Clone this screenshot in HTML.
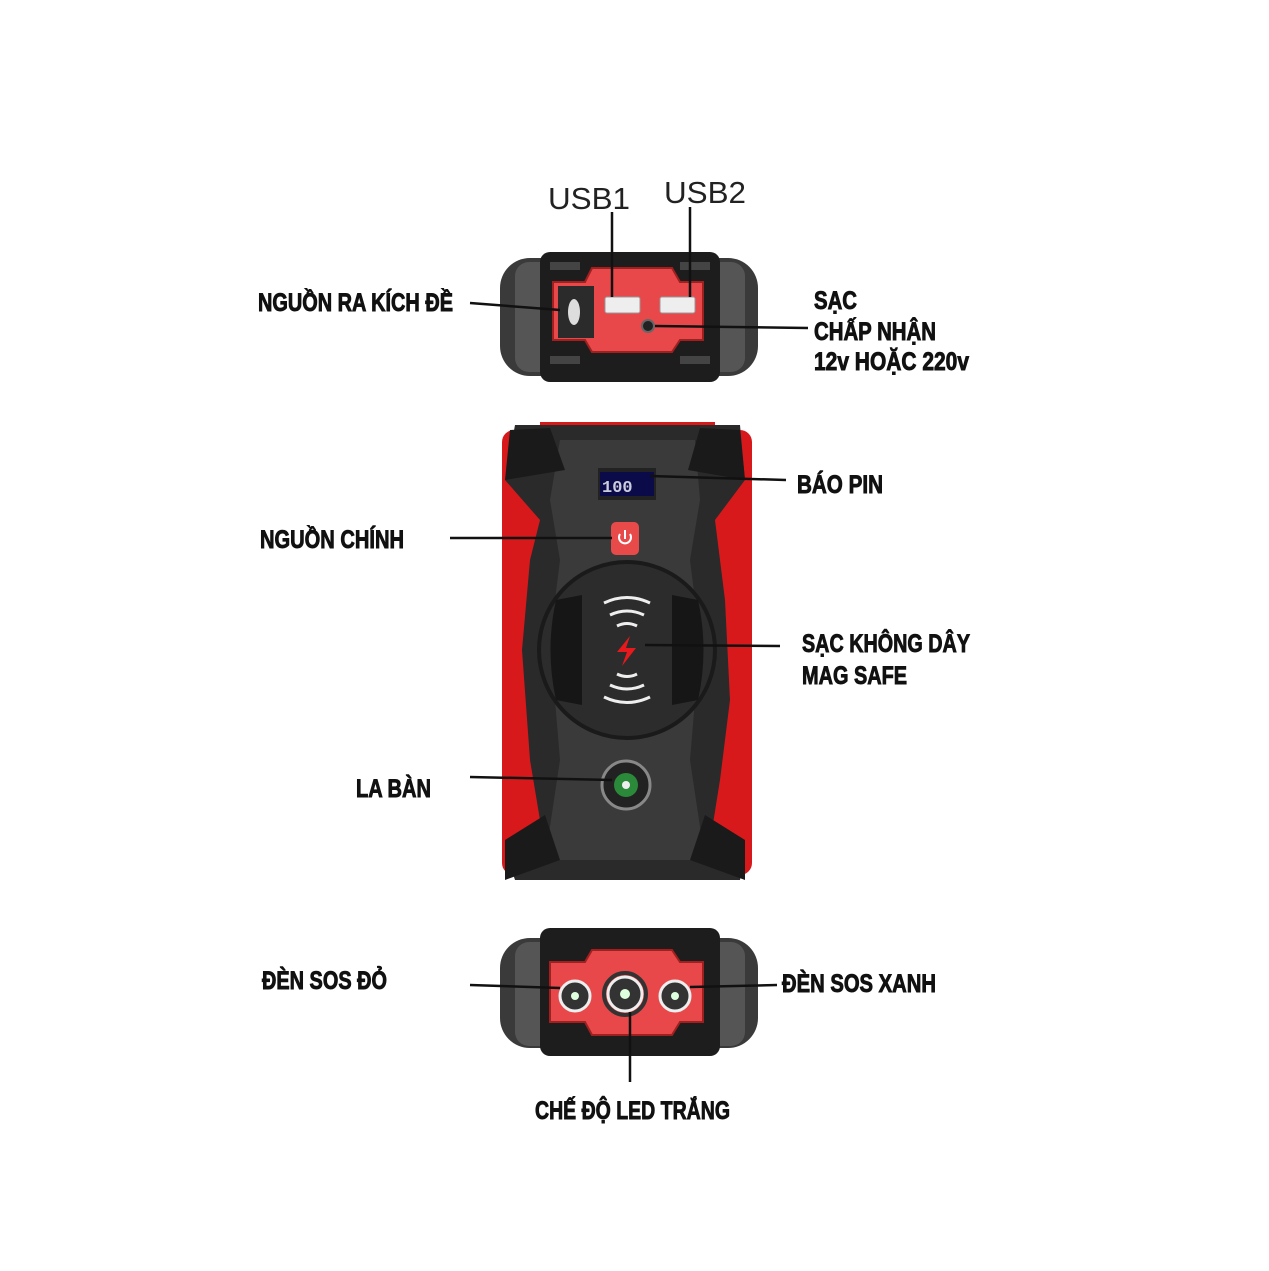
<!DOCTYPE html>
<html><head><meta charset="utf-8"><style>
html,body{margin:0;padding:0;background:#fff;width:1269px;height:1271px;overflow:hidden}
svg{display:block}
.l{font-family:"Liberation Sans Narrow","Liberation Sans",sans-serif;font-weight:bold;font-size:25px;fill:#111;stroke:#111;stroke-width:0.9}
.u{font-family:"Liberation Sans",sans-serif;font-size:31px;fill:#222}
</style></head><body>
<svg width="1269" height="1271" viewBox="0 0 1269 1271" xmlns="http://www.w3.org/2000/svg">
<!-- TOP DEVICE -->
<rect x="500" y="258" width="258" height="118" rx="30" fill="#3a3a3a"/>
<rect x="515" y="262" width="40" height="110" rx="14" fill="#555"/>
<rect x="705" y="262" width="40" height="110" rx="14" fill="#555"/>
<rect x="540" y="252" width="180" height="130" rx="10" fill="#1d1d1d"/>
<path d="M553 282 L585 282 L592 268 L672 268 L680 282 L703 282 L703 340 L680 340 L672 352 L592 352 L585 340 L553 340 Z" fill="#e8484a" stroke="#a02020" stroke-width="2"/>
<rect x="558" y="286" width="36" height="52" fill="#2b2b2b"/>
<ellipse cx="574" cy="312" rx="6" ry="13" fill="#ddd"/>
<rect x="605" y="297" width="35" height="16" rx="2" fill="#eee" stroke="#999"/>
<rect x="660" y="297" width="35" height="16" rx="2" fill="#eee" stroke="#999"/>
<circle cx="648" cy="326" r="6" fill="#222" stroke="#666" stroke-width="2"/>
<rect x="550" y="356" width="30" height="8" fill="#444"/><rect x="680" y="356" width="30" height="8" fill="#444"/>
<rect x="550" y="262" width="30" height="8" fill="#444"/><rect x="680" y="262" width="30" height="8" fill="#444"/>

<!-- MIDDLE DEVICE -->
<rect x="502" y="430" width="250" height="445" rx="12" fill="#d8191c"/>
<rect x="540" y="422" width="175" height="20" fill="#d8191c"/>
<path d="M515 425 L740 425 L745 480 L715 520 L725 600 L730 700 L720 780 L712 830 L745 850 L740 880 L515 880 L505 850 L540 820 L530 760 L522 650 L530 560 L540 520 L505 480 Z" fill="#2a2a2a"/>
<path d="M560 440 L695 440 L700 500 L690 560 L700 640 L690 760 L705 860 L545 860 L560 760 L550 640 L560 560 L550 500 Z" fill="#3a3a3a"/>
<path d="M505 880 L505 840 L545 815 L560 860 Z M745 880 L745 840 L705 815 L690 860 Z" fill="#1a1a1a"/>
<path d="M505 480 L510 430 L550 428 L565 470 Z M745 480 L740 430 L700 428 L688 470 Z" fill="#1a1a1a"/>
<rect x="598" y="468" width="58" height="32" fill="#222"/>
<rect x="600" y="472" width="54" height="24" fill="#0b0b4a"/>
<text x="602" y="492" font-family="Liberation Mono,monospace" font-size="17" font-weight="bold" fill="#ccd">100</text>
<rect x="611" y="522" width="28" height="33" rx="5" fill="#e84a4a"/>
<path d="M620 534 A6 6 0 1 0 630 534 M625 530 L625 539" stroke="#fff" stroke-width="2" fill="none"/>
<circle cx="627" cy="650" r="88" fill="#2c2c2c" stroke="#1a1a1a" stroke-width="4"/>
<path d="M556 600 L582 595 L582 705 L556 700 Q545 650 556 600 Z" fill="#161616"/>
<path d="M698 600 L672 595 L672 705 L698 700 Q709 650 698 600 Z" fill="#161616"/>
<g stroke="#eee" stroke-width="3" fill="none">
<path d="M604 603 Q627 592 650 603"/><path d="M610 615 Q627 607 644 615"/><path d="M617 626 Q627 621 637 626"/>
<path d="M617 674 Q627 679 637 674"/><path d="M610 685 Q627 693 644 685"/><path d="M604 697 Q627 708 650 697"/>
</g>
<path d="M630 636 L617 652 L627 652 L622 666 L636 648 L626 648 Z" fill="#e8191c"/>
<circle cx="626" cy="785" r="24" fill="#222" stroke="#888" stroke-width="3"/>
<circle cx="626" cy="785" r="12" fill="#2a8a3a"/><circle cx="626" cy="785" r="4" fill="#eee"/>

<!-- BOTTOM DEVICE -->
<rect x="500" y="938" width="258" height="110" rx="30" fill="#3a3a3a"/>
<rect x="515" y="942" width="40" height="104" rx="14" fill="#555"/>
<rect x="705" y="942" width="40" height="104" rx="14" fill="#555"/>
<rect x="540" y="928" width="180" height="128" rx="10" fill="#1d1d1d"/>
<path d="M550 962 L585 962 L592 950 L672 950 L680 962 L703 962 L703 1022 L680 1022 L672 1035 L592 1035 L585 1022 L550 1022 Z" fill="#e8484a" stroke="#a02020" stroke-width="2"/>
<g stroke="#eee" stroke-width="3" fill="#333">
<circle cx="575" cy="996" r="15"/><circle cx="625" cy="994" r="17"/><circle cx="675" cy="996" r="15"/>
</g>
<circle cx="625" cy="994" r="21" fill="none" stroke="#333" stroke-width="4"/>
<g fill="#dfd"><circle cx="575" cy="996" r="4"/><circle cx="625" cy="994" r="5"/><circle cx="675" cy="996" r="4"/></g>

<!-- LEADERS -->
<g stroke="#111" stroke-width="2.5" fill="none">
<line x1="612" y1="212" x2="612" y2="297"/>
<line x1="690" y1="207" x2="690" y2="297"/>
<line x1="470" y1="303" x2="560" y2="310"/>
<line x1="655" y1="326" x2="808" y2="328"/>
<line x1="650" y1="476" x2="786" y2="480"/>
<line x1="450" y1="538" x2="612" y2="538"/>
<line x1="645" y1="645" x2="780" y2="646"/>
<line x1="470" y1="777" x2="612" y2="780"/>
<line x1="470" y1="985" x2="560" y2="988"/>
<line x1="690" y1="987" x2="777" y2="985"/>
<line x1="630" y1="1012" x2="630" y2="1082"/>
</g>

<!-- LABELS -->
<text class="u" x="548" y="209" textLength="82" lengthAdjust="spacingAndGlyphs">USB1</text>
<text class="u" x="664" y="203" textLength="82" lengthAdjust="spacingAndGlyphs">USB2</text>
<text class="l" x="258" y="311" textLength="195" lengthAdjust="spacingAndGlyphs">NGUỒN RA KÍCH ĐỀ</text>
<text class="l" x="814" y="309" textLength="43" lengthAdjust="spacingAndGlyphs">SẠC</text>
<text class="l" x="814" y="340" textLength="122" lengthAdjust="spacingAndGlyphs">CHẤP NHẬN</text>
<text class="l" x="814" y="370" textLength="155" lengthAdjust="spacingAndGlyphs">12v HOẶC 220v</text>
<text class="l" x="797" y="493" textLength="86" lengthAdjust="spacingAndGlyphs">BÁO PIN</text>
<text class="l" x="260" y="548" textLength="144" lengthAdjust="spacingAndGlyphs">NGUỒN CHÍNH</text>
<text class="l" x="802" y="652" textLength="168" lengthAdjust="spacingAndGlyphs">SẠC KHÔNG DÂY</text>
<text class="l" x="802" y="684" textLength="105" lengthAdjust="spacingAndGlyphs">MAG SAFE</text>
<text class="l" x="356" y="797" textLength="75" lengthAdjust="spacingAndGlyphs">LA BÀN</text>
<text class="l" x="262" y="989" textLength="125" lengthAdjust="spacingAndGlyphs">ĐÈN SOS ĐỎ</text>
<text class="l" x="782" y="992" textLength="154" lengthAdjust="spacingAndGlyphs">ĐÈN SOS XANH</text>
<text class="l" x="535" y="1119" textLength="195" lengthAdjust="spacingAndGlyphs">CHẾ ĐỘ LED TRẮNG</text>
</svg>
</body></html>
